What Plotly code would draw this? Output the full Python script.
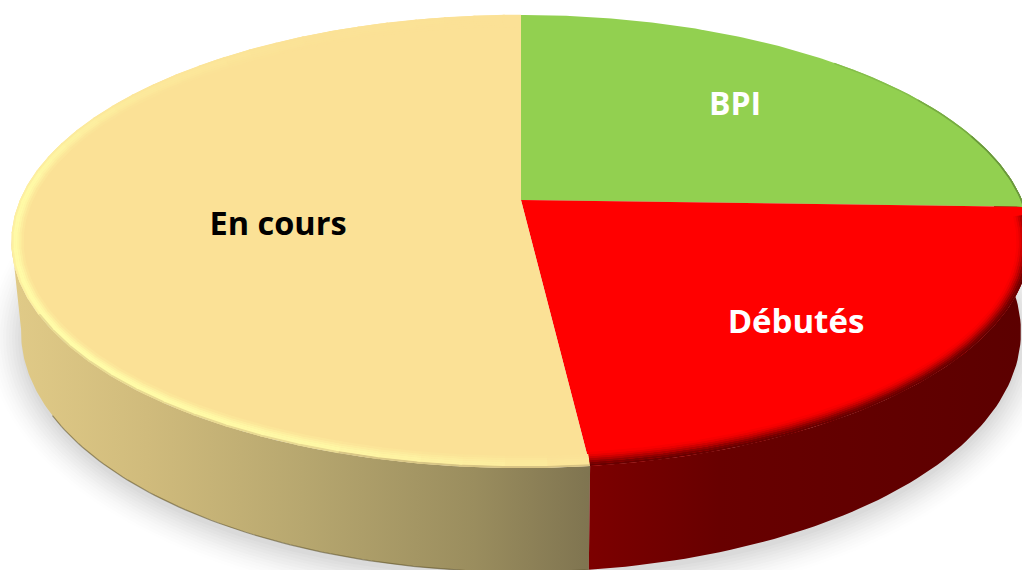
import numpy as np
import plotly.graph_objects as go

# ---- data -------------------------------------------------------------
CATEGORIES = ["BPI", "Débutés", "En cours"]
VALUES = [25.5, 22.7, 51.8]            # percent, clockwise from 12 o'clock
FACE_COLORS = ["#92D050", "#FF0000", "#FBE196"]
LABEL_COLORS = ["#FFFFFF", "#FFFFFF", "#000000"]
LABEL_X = [735, 796, 278]
LABEL_Y = [107, 325, 227]
LABEL_SIZES = [32, 33, 32.5]

W, H = 1022, 570
P = 0.183
CX = 521
TOP = dict(yc=200, a=219, b=501)
BOT = dict(yc=288, a=232, b=491.5)
E_CY, E_RX, E_RY = 241.5, 510.0, 226.5


def proj(deg, geo):
    t = np.radians(np.asarray(deg, dtype=float))
    u, v = np.sin(t), np.cos(t)
    d = 1 + P * v
    return CX + geo["b"] * u / d, geo["yc"] - geo["a"] * v / d


def inset(deg, w):
    x, y = proj(deg, TOP)
    ex, ey = (x - CX) / E_RX, (y - E_CY) / E_RY
    return CX + ex * (E_RX - w), E_CY + ey * (E_RY - w)


def hex2rgb(c):
    c = c.lstrip("#")
    return np.array([int(c[i:i + 2], 16) for i in (0, 2, 4)], dtype=float)


def mix(c1, c2, t):
    r = hex2rgb(c1) * (1 - t) + hex2rgb(c2) * t
    return "#%02X%02X%02X" % tuple(int(round(v)) for v in r)


cum = np.concatenate([[0], np.cumsum(VALUES)]) / sum(VALUES) * 360
A_BPI, A_DEB, A_END = cum[1], cum[2], cum[3]

fig = go.Figure()


def poly(x, y, color=None, **kw):
    args = dict(x=x, y=y, mode="lines", fill="toself", line=dict(width=0),
                hoverinfo="skip", showlegend=False)
    if color:
        args["fillcolor"] = color
    args.update(kw)
    fig.add_trace(go.Scatter(**args))


# soft ground shadow
th = np.linspace(0, 360, 241)
bx, by = proj(th, BOT)
bcx, bcy, brx, bry = 521, 332, 500, 240
for k in range(36, -1, -3):
    f = 1 - k / 38
    c = mix("#FFFFFF", "#DADADA", f ** 1.6)
    ex, ey = (bx - bcx) / brx, (by - bcy) / bry
    poly(bcx + ex * (brx + k), bcy + 6 + ey * (bry + k), c)

# walls
seg = np.linspace(A_DEB, 260, 120)
tx, ty = proj(seg, TOP)
bx, by = proj(seg, BOT)
poly(np.r_[tx, bx[::-1]], np.r_[ty, by[::-1]],
     fillgradient=dict(type="horizontal", start=15, stop=590,
                       colorscale=[[0, "#E0CA87"], [0.23, "#D0BB7C"], [0.5, "#B7A76F"],
                                   [0.8, "#9A8D5E"], [1, "#7F7450"]]))
seg = np.linspace(A_BPI - 12, A_DEB, 80)
tx, ty = proj(seg, TOP)
bx, by = proj(seg, BOT)
poly(np.r_[tx, bx[::-1]], np.r_[ty, by[::-1]],
     fillgradient=dict(type="horizontal", start=590, stop=1022,
                       colorscale=[[0, "#7C0000"], [0.3, "#680000"], [1, "#5C0000"]]))

# dark lower edge of the wall
seg = np.linspace(A_DEB, 240, 80)
bx, by = proj(seg, BOT)
fig.add_trace(go.Scatter(x=bx, y=by, mode="lines", line=dict(color="rgba(90,78,40,0.55)", width=1.2),
                         hoverinfo="skip", showlegend=False))

# top face sectors
cx0, cy0 = proj(0, dict(TOP, a=0, b=0))
for i, col in enumerate(FACE_COLORS):
    seg = np.linspace(cum[i], cum[i + 1], 181)
    x, y = proj(seg, TOP)
    poly(np.r_[cx0, x, cx0], np.r_[cy0, y, cy0], col)


# bevel: En cours (bright highlight)
def cream_intensity(a):
    pts = [A_DEB, 182, 200, 230, 275, 300, 330, 360]
    vals = [0.1, 0.45, 0.85, 1.0, 0.9, 0.35, 0.05, 0.0]
    return float(np.interp(a, pts, vals))


LAYERS = [(1.0, 0.6), (3.0, 1.0), (5.0, 1.0), (7.0, 0.8), (9.0, 0.5), (11.0, 0.2)]
STEP = 4
angles = np.arange(A_DEB, A_END, STEP)
for w, strength in LAYERS:
    for a in angles:
        s = np.array([a, min(a + STEP + 0.3, A_END)])
        i = cream_intensity(a + STEP / 2) * strength
        col = mix("#FBE196", "#FFFCA8", i)
        if w == 1.0 and a < 240:
            col = mix(col, "#BBA872", 0.55 if a < 195 else 0.3)
        x, y = inset(s, w)
        fig.add_trace(go.Scatter(x=x, y=y, mode="lines", line=dict(color=col, width=2.3),
                                 hoverinfo="skip", showlegend=False))

# bevel: Débutés (dark blurred edge)
seg = np.linspace(A_BPI + 2, A_DEB, 90)
for w, t in [(1.0, 0.95), (3.0, 0.85), (5.0, 0.68), (7.0, 0.48), (9.0, 0.3), (11.0, 0.15), (13.0, 0.05)]:
    x, y = inset(seg, w)
    fig.add_trace(go.Scatter(x=x, y=y, mode="lines", line=dict(color=mix("#FF0000", "#600000", t), width=2.3),
                             hoverinfo="skip", showlegend=False))

# bevel: BPI (thin dark edge, right side only)
for start, t in [(45, 0.2), (60, 0.4), (72, 0.6)]:
    seg = np.linspace(start, A_BPI, 30)
    x, y = inset(seg, 0.7)
    fig.add_trace(go.Scatter(x=x, y=y, mode="lines", line=dict(color=mix("#92D050", "#4E7030", t), width=1.4),
                             hoverinfo="skip", showlegend=False))

# labels
for name, color, lx, ly, size in zip(CATEGORIES, LABEL_COLORS, LABEL_X, LABEL_Y, LABEL_SIZES):
    fig.add_trace(go.Scatter(x=[lx], y=[ly], mode="text", text=[f"<b>{name}</b>"],
                             textposition="middle center",
                             textfont=dict(family="Open Sans, Lato, sans-serif", size=size, color=color),
                             hoverinfo="skip", showlegend=False))

fig.update_layout(width=W, height=H, margin=dict(l=0, r=0, t=0, b=0),
                  paper_bgcolor="#FFFFFF", plot_bgcolor="#FFFFFF", showlegend=False,
                  xaxis=dict(range=[0, W], visible=False, fixedrange=True),
                  yaxis=dict(range=[H, 0], visible=False, fixedrange=True))
fig.write_html("out.html", config=dict(displayModeBar=False),
               post_script="document.body.style.margin='0';document.body.style.overflow='hidden';")
